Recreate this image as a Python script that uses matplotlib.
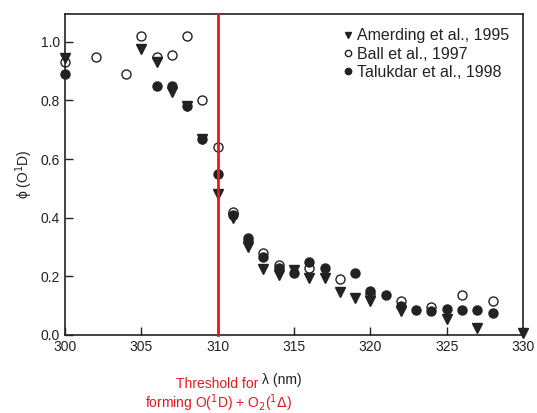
import matplotlib.pyplot as plt

plt.rcParams['font.family'] = ['Liberation Sans', 'DejaVu Sans']

# Amerding et al., 1995 (triangles)
amer_wl = [300, 305, 306, 307, 308, 309, 310, 311, 312, 313, 314, 315, 316, 317,
           318, 319, 320, 322, 325, 327, 330]
amer_phi = [0.945, 0.975, 0.93, 0.83, 0.78, 0.67, 0.48, 0.40, 0.30, 0.225, 0.205,
            0.22, 0.195, 0.195, 0.145, 0.125, 0.115, 0.08, 0.055, 0.025, 0.005]

# Ball et al., 1997 (open circles)
ball_wl = [300, 302, 304, 305, 306, 307, 308, 309, 310, 311, 312, 313, 314, 316,
           318, 320, 322, 324, 326, 328]
ball_phi = [0.93, 0.95, 0.89, 1.02, 0.95, 0.955, 1.02, 0.80, 0.64, 0.42, 0.32, 0.28,
            0.24, 0.23, 0.19, 0.14, 0.115, 0.095, 0.135, 0.115]

# Talukdar et al., 1998 (filled circles)
tal_wl = [300, 306, 307, 308, 309, 310, 311, 312, 313, 314, 315, 316, 317, 319,
          320, 321, 322, 323, 324, 325, 326, 327, 328]
tal_phi = [0.89, 0.85, 0.85, 0.78, 0.67, 0.55, 0.41, 0.33, 0.265, 0.23, 0.21, 0.25,
           0.23, 0.21, 0.15, 0.135, 0.10, 0.085, 0.08, 0.09, 0.085, 0.085, 0.075]

xticks = [300, 305, 310, 315, 320, 325, 330]
yticks = [0.0, 0.2, 0.4, 0.6, 0.8, 1.0]
threshold = 310

fig = plt.figure(figsize=(5.37, 4.13), dpi=100)
ax = fig.add_axes([0.121, 0.189, 0.853, 0.777])

ink = '#222222'
ax.plot(amer_wl, amer_phi, 'v', color=ink, markersize=6.5, linestyle='none',
        label='Amerding et al., 1995', zorder=3, clip_on=False)
ax.plot(ball_wl, ball_phi, 'o', mfc='white', mec=ink, mew=1.0, markersize=6.5,
        linestyle='none', label='Ball et al., 1997', zorder=2, clip_on=False)
ax.plot(tal_wl, tal_phi, 'o', color=ink, markersize=6.5, linestyle='none',
        label='Talukdar et al., 1998', zorder=4, clip_on=False)

ax.axvline(threshold, color='#e31a1c', linewidth=2, zorder=5, clip_on=False)

ax.set_xlim(300, 330)
ax.set_ylim(0, 1.095)
ax.set_xticks(xticks)
ax.set_yticks(yticks)
ax.set_yticklabels(['%.1f' % v for v in yticks])
ax.tick_params(direction='in', length=6, labelsize=10, colors=ink, width=1)
for s in ax.spines.values():
    s.set_color(ink)
    s.set_linewidth(1.2)

ax.set_ylabel('\u03d5 (O$^1$D)', fontsize=10, color=ink)

leg = ax.legend(loc='upper right', frameon=False, fontsize=11.5, handletextpad=0.2,
                markerscale=0.7, labelspacing=0.2, borderaxespad=0.5,
                handlelength=0.7, borderpad=0.4)
for t in leg.get_texts():
    t.set_color(ink)

fig.text(0.488, 0.08, '\u03bb (nm)', fontsize=10, color=ink, ha='left', va='center')
fig.text(0.327, 0.07, 'Threshold for', fontsize=10, color='#e31a1c', ha='left', va='center')
fig.text(0.27, 0.023, r'forming O($^1$D) + O$_2$($^1\Delta$)', fontsize=10,
         color='#e31a1c', ha='left', va='center')

fig.savefig('out.png', dpi=100)
